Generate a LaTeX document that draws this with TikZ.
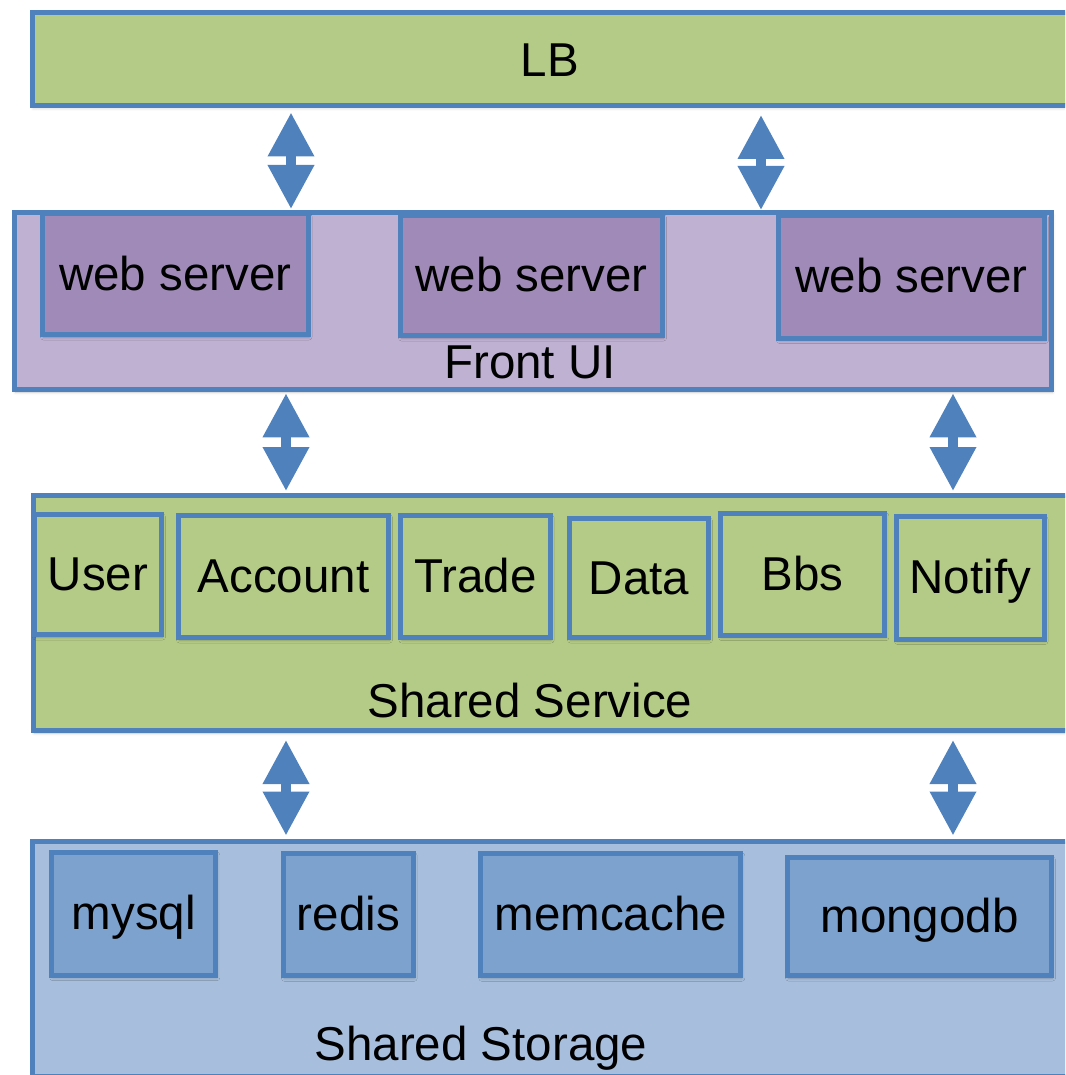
\documentclass[tikz,border=0pt]{standalone}
\usepackage{fontspec}
\setmainfont{Liberation Sans}
\usetikzlibrary{arrows.meta,shadows.blur}

\definecolor{edgeblue}{HTML}{4F81BD}
\definecolor{layergreen}{HTML}{B4CB87}
\definecolor{uilight}{HTML}{BFB1D2}
\definecolor{uidark}{HTML}{A08BB8}
\definecolor{storelight}{HTML}{A7BFDD}
\definecolor{storedark}{HTML}{7CA2CD}

\begin{document}
\begin{tikzpicture}[x=1pt,y=-1pt,
  font=\fontsize{47.5}{57}\selectfont,
  box/.style={draw=edgeblue, line width=5pt, rectangle, inner sep=0pt, outer sep=0pt,
    anchor=north west, text height=36pt, text depth=4pt,
    blur shadow={shadow xshift=1pt, shadow yshift=-2.5pt,
      shadow blur radius=3pt, shadow opacity=22}},
  layer/.style={box},
  unit/.style={box},
  caption/.style={anchor=base, inner sep=0pt},
  dblarrow/.style={draw=edgeblue, line width=10pt,
    {Triangle[width=44pt,length=44pt]}-{Triangle[width=44pt,length=44pt]}}
]
\useasboundingbox (0,0) rectangle (1065,1075);
\clip (0,0) rectangle (1065,1075);

% ---- load balancer
\node[layer, fill=layergreen, minimum width=1047.5pt, minimum height=93pt] (lb) at (32.5,12.5) {};
\node[caption] (lbtext) at (550,77) {LB};

% ---- front UI layer
\node[layer, fill=uilight, minimum width=1037pt, minimum height=177pt] (front) at (14.5,212.5) {};
\node[unit, fill=uidark, minimum width=265.5pt, minimum height=120.5pt] (ws1) at (42.5,214) {web server};
\node[unit, fill=uidark, minimum width=262pt, minimum height=120pt] (ws2) at (400.5,215.5) {web server};
\node[unit, fill=uidark, minimum width=266pt, minimum height=122.5pt] (ws3) at (778.5,215.5) {web server};
\node[caption] (fronttext) at (530,378) {Front UI};

% ---- shared service layer
\node[layer, fill=layergreen, minimum width=1050pt, minimum height=235pt] (service) at (33.5,495.5) {};
\node[unit, fill=layergreen, minimum width=127pt, minimum height=120pt] (user) at (34.5,514.5) {User};
\node[unit, fill=layergreen, minimum width=210pt, minimum height=122.5pt] (account) at (178.5,515) {Account};
\node[unit, fill=layergreen, minimum width=149.4pt, minimum height=122pt] (trade) at (400.8,515.5) {Trade};
\node[unit, fill=layergreen, minimum width=139pt, minimum height=119pt] (data) at (569.5,518.5) {Data};
\node[unit, fill=layergreen, minimum width=164pt, minimum height=122pt] (bbs) at (720.8,513.2) {Bbs};
\node[unit, fill=layergreen, minimum width=147.5pt, minimum height=122.2pt] (notify) at (896.5,516.8) {Notify};
\node[caption] (servicetext) at (530,717) {Shared Service};

% ---- shared storage layer
\node[layer, fill=storelight, minimum width=1050pt, minimum height=235pt] (storage) at (32.5,841.5) {};
\node[unit, fill=storedark, minimum width=164pt, minimum height=122.7pt] (mysql) at (51.8,852.5) {mysql};
\node[unit, fill=storedark, minimum width=129.7pt, minimum height=122.6pt] (redis) at (283.5,853.2) {redis};
\node[unit, fill=storedark, minimum width=260pt, minimum height=122.6pt] (memcache) at (480.8,853.2) {memcache};
\node[unit, fill=storedark, minimum width=264pt, minimum height=118pt] (mongodb) at (787.5,857.5) {mongodb};
\node[caption] (storagetext) at (481,1060) {Shared Storage};

% ---- arrow end points between the layers
\coordinate (lbA) at (291,112.5);   \coordinate (frontA) at (291,209);
\coordinate (lbB) at (761,115);     \coordinate (frontB) at (761,210);
\coordinate (frontC) at (286,393.3); \coordinate (serviceC) at (286,491);
\coordinate (frontD) at (953,393.3); \coordinate (serviceD) at (953,491);
\coordinate (serviceE) at (286,740); \coordinate (storageE) at (286,835.5);
\coordinate (serviceF) at (953,740); \coordinate (storageF) at (953,835.5);

\draw[dblarrow] (lbA) -- (frontA);
\draw[dblarrow] (lbB) -- (frontB);
\draw[dblarrow] (frontC) -- (serviceC);
\draw[dblarrow] (frontD) -- (serviceD);
\draw[dblarrow] (serviceE) -- (storageE);
\draw[dblarrow] (serviceF) -- (storageF);
\end{tikzpicture}
\end{document}
